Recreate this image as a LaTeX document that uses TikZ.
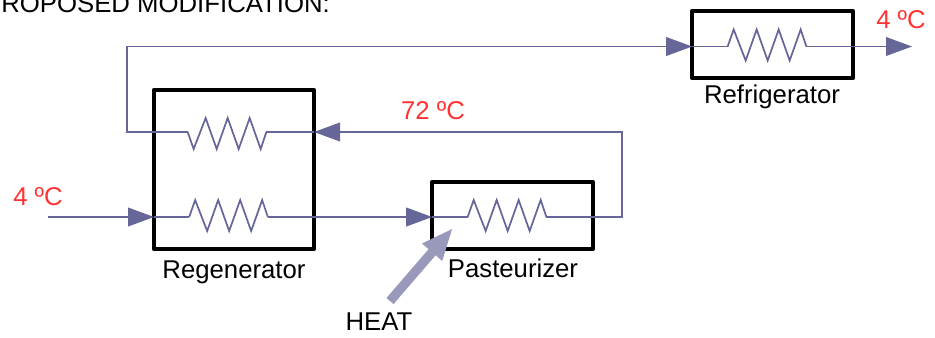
\documentclass[tikz,border=0pt]{standalone}
\usepackage{fontspec}
\setmainfont{Liberation Sans}
\usetikzlibrary{arrows.meta}
\definecolor{flowblue}{HTML}{666699}
\definecolor{heatblue}{HTML}{9999BB}
\definecolor{tempred}{HTML}{FF3333}
\tikzset{
  unitbox/.style={draw=black,line width=3pt,line join=round,inner sep=0pt,outer sep=0pt},
  coilnode/.style={inner sep=0pt,outer sep=0pt,minimum width=59pt,minimum height=23pt},
  flow/.style={draw=flowblue,line width=1.3pt},
  flowhead/.style={flow,-{Triangle[length=19.5pt,width=14pt,fill=flowblue]}},
  heatarrow/.style={draw=heatblue,line width=7pt,-{Triangle[length=24pt,width=18pt,fill=heatblue]}},
  plainlabel/.style={font=\fontsize{19.3}{22}\selectfont,anchor=base,inner sep=0pt},
  templabel/.style={plainlabel,text=tempred}
}
\begin{document}
\begin{tikzpicture}[x=0.75pt,y=-0.75pt]
\useasboundingbox (0,0) rectangle (935,337);
\node[plainlabel,anchor=base east] (title) at (330,12) {ROPOSED MODIFICATION:};
\node[unitbox,minimum width=120pt,minimum height=119.5pt] (regen) at (234,169.5) {};
\node[unitbox,minimum width=120.5pt,minimum height=50.5pt] (past) at (512.5,215.5) {};
\node[unitbox,minimum width=120.5pt,minimum height=50.5pt] (refr) at (772.5,44.5) {};
\node[plainlabel] (regenlabel) at (234,278) {Regenerator};
\node[plainlabel] (pastlabel) at (513,277) {Pasteurizer};
\node[plainlabel] (refrlabel) at (772,103) {Refrigerator};
\node[templabel] (tempin) at (38,205) {4 ºC};
\node[templabel] (tempmid) at (433,119) {72 ºC};
\node[templabel] (tempout) at (901,28) {4 ºC};
\node[plainlabel] (heat) at (379,330) {HEAT};
\node[coilnode] (coiltop) at (227,132) {};
\node[coilnode] (coilbot) at (228.5,217) {};
\node[coilnode] (coilpast) at (507,217) {};
\node[coilnode] (coilrefr) at (767,46.5) {};
\coordinate (feed) at (48,217);
\coordinate (outlet) at (912,46.5);
\coordinate (cornerA) at (127,132);
\coordinate (cornerB) at (127,46.5);
\coordinate (cornerC) at (622,217);
\coordinate (cornerD) at (622,132);
\coordinate (heatstart) at (390,301);
\coordinate (heattip) at (453,228);
\foreach \c/\s in {coiltop/-1,coilbot/1,coilpast/1,coilrefr/1}
  \draw[flow,yscale=\s] (\c.west) -- ++(6,-17) -- ++(12,31) -- ++(11,-31) -- ++(11,31) -- ++(11,-31) -- ++(11,31) -- ++(11,-31) -- (\c.east);
\draw[flowhead] (feed) -- (regen.west |- feed);
\draw[flow] (regen.west |- feed) -- (coilbot.west);
\draw[flowhead] (coilbot.east) -- (past.west |- coilbot);
\draw[flow] (past.west |- coilpast) -- (coilpast.west);
\draw[flowhead] (coilpast.east) -- (cornerC) -- (cornerD) -- (regen.east |- coiltop);
\draw[flow] (regen.east |- coiltop) -- (coiltop.east);
\draw[flowhead] (coiltop.west) -- (cornerA) -- (cornerB) -- (refr.west |- cornerB);
\draw[flow] (refr.west |- coilrefr) -- (coilrefr.west);
\draw[flowhead] (coilrefr.east) -- (outlet);
\draw[heatarrow] (heatstart) -- (heattip);
\end{tikzpicture}
\end{document}
